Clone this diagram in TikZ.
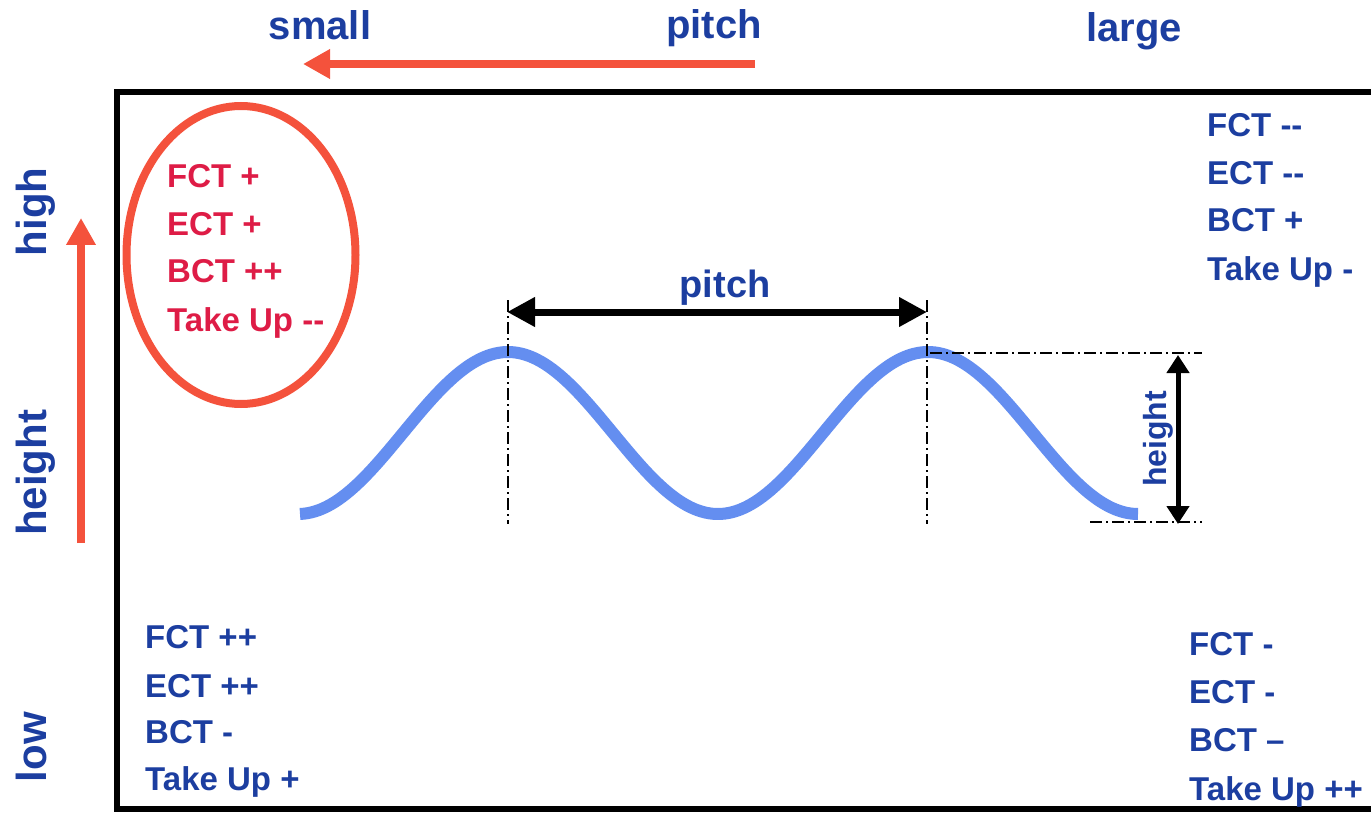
\documentclass[tikz,border=0pt]{standalone}
\usepackage{fontspec}
\setmainfont{Liberation Sans}
\usetikzlibrary{arrows.meta,shapes.geometric}
\definecolor{txtblue}{RGB}{28,62,160}
\definecolor{txtred}{RGB}{222,28,70}
\definecolor{arrred}{RGB}{244,82,60}
\definecolor{wavblue}{RGB}{100,142,240}
\begin{document}
\begin{tikzpicture}[x=1pt,y=-1pt,
  lbl/.style={inner sep=0pt, anchor=base, text=txtblue, font=\bfseries\fontsize{40}{48}\selectfont},
  sidelbl/.style={inner sep=0pt, anchor=base, rotate=90, text=txtblue, font=\bfseries\fontsize{42}{48}\selectfont},
  listb/.style={inner sep=0pt, anchor=base west, text=txtblue, font=\bfseries\fontsize{33}{48}\selectfont},
  listr/.style={listb, text=txtred},
  redarrow/.style={draw=arrred, line width=8pt, -{Triangle[length=27pt,width=28pt]}},
  blackarrow/.style={draw=black, line width=7pt, {Triangle[length=28pt,width=28pt]}-{Triangle[length=28pt,width=28pt]}},
  harrow/.style={draw=black, line width=5pt, {Triangle[length=18pt,width=22pt]}-{Triangle[length=18pt,width=22pt]}},
  dashdot/.style={draw=black, line width=1.5pt, dash pattern=on 12pt off 4pt on 2pt off 4pt},
  frame/.style={draw=black, line width=6pt},
  wave/.style={draw=wavblue, line width=12pt}
]
\useasboundingbox (0,0) rectangle (1371,813);
% frame
\coordinate (fr1) at (1380,92);
\coordinate (fr2) at (117,92);
\coordinate (fr3) at (117,809);
\coordinate (fr4) at (1380,809);
\draw[frame] (fr1) -- (fr2) -- (fr3) -- (fr4);
% top labels
\node[lbl] (small) at (320,40) {small};
\node[lbl] (pitchtop) at (714,39) {pitch};
\node[lbl] (large) at (1134,42) {large};
\coordinate (ha1) at (755,64);
\coordinate (ha2) at (303,64);
\draw[redarrow] (ha1) -- (ha2);
% side labels
\node[sidelbl] (high) at (46,212) {high};
\node[sidelbl] (heightl) at (46,473) {height};
\node[sidelbl] (low) at (46,747) {low};
\coordinate (va1) at (81,543);
\coordinate (va2) at (81,218);
\draw[redarrow] (va1) -- (va2);
% ellipse
\node[draw=arrred, line width=8pt, ellipse, minimum width=229pt, minimum height=298pt, inner sep=0pt] (ell) at (241,255) {};
\foreach \t/\y [count=\i] in {FCT +/188, ECT +/236, BCT ++/283, Take Up -{}-/331}
  \node[listr] (r\i) at (167,\y) {\t};
% top right list
\foreach \t/\y [count=\i] in {FCT -{}-/137, ECT -{}-/185, BCT +/232, Take Up -/280}
  \node[listb] (tr\i) at (1207,\y) {\t};
% bottom right list
\foreach \t/\y [count=\i] in {FCT -/655, ECT -/703, BCT \textendash/751, Take Up ++/800}
  \node[listb] (br\i) at (1189,\y) {\t};
% bottom left list
\foreach \t/\y [count=\i] in {FCT ++/648, ECT ++/697, BCT -/743, Take Up +/790}
  \node[listb] (bl\i) at (145,\y) {\t};
% wave
\draw[wave] plot[domain=300:1138, samples=220] (\x, {433-81*cos((\x-508)*0.857142857)});
% dash-dot guides
\coordinate (d1a) at (508,300);
\coordinate (d1b) at (508,524);
\coordinate (d2a) at (927,300);
\coordinate (d2b) at (927,524);
\coordinate (d3a) at (930,353);
\coordinate (d3b) at (1202,353);
\coordinate (d4a) at (1090,522);
\coordinate (d4b) at (1202,522);
\draw[dashdot] (d1a) -- (d1b);
\draw[dashdot] (d2a) -- (d2b);
\draw[dashdot] (d3a) -- (d3b);
\draw[dashdot] (d4a) -- (d4b);
% pitch arrow
\coordinate (pa1) at (507,312);
\coordinate (pa2) at (927,312);
\draw[blackarrow] (pa1) -- (pa2);
\node[lbl, font=\bfseries\fontsize{38}{46}\selectfont] (pitchmid) at (725,298) {pitch};
% height arrow
\coordinate (hb1) at (1178,355);
\coordinate (hb2) at (1178,524);
\draw[harrow] (hb1) -- (hb2);
\node[sidelbl, font=\bfseries\fontsize{32}{40}\selectfont] (heightr) at (1166,439) {height};
\end{tikzpicture}
\end{document}
